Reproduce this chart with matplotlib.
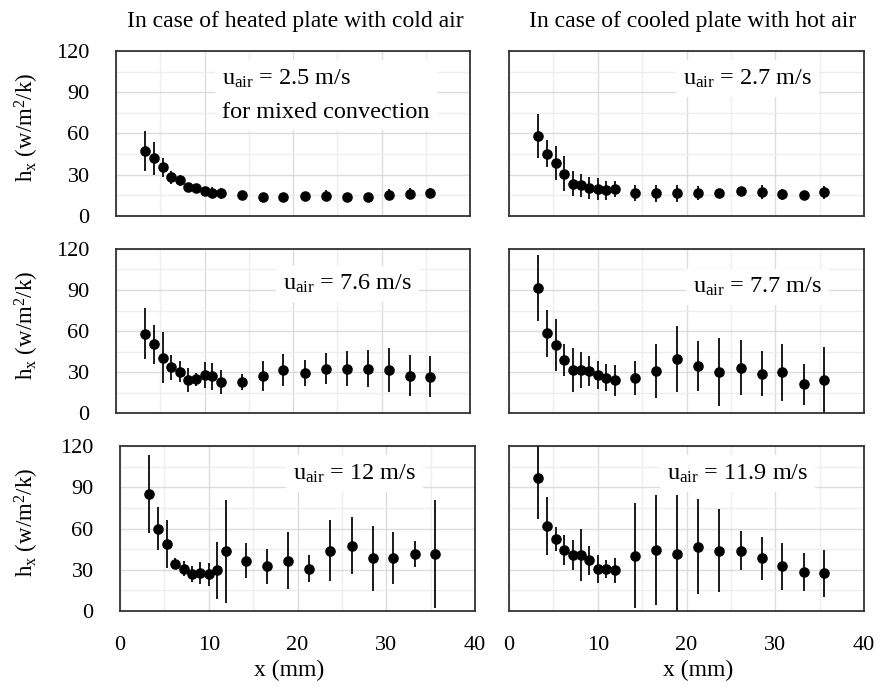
import matplotlib
matplotlib.use('Agg')
import matplotlib.pyplot as plt
from matplotlib.ticker import MultipleLocator

plt.rcParams['font.family'] = ['Liberation Serif', 'DejaVu Serif']
plt.rcParams['mathtext.fontset'] = 'custom'
plt.rcParams['mathtext.rm'] = 'Liberation Serif'
plt.rcParams['mathtext.it'] = 'Liberation Serif:italic'

# distance from leading edge, shared by all six runs
x_mm = [3.3, 4.3, 5.3, 6.2, 7.2, 8.1, 9.0, 10.0, 10.9, 11.9,
        14.2, 16.6, 18.9, 21.3, 23.7, 26.1, 28.5, 30.8, 33.2, 35.5]

# heated plate with cold air
h_hot_25 = [47, 42, 35.5, 28, 26, 21, 20, 18.5, 17, 16.5,
            15, 14, 14, 14.6, 14.6, 14, 14, 15.6, 16.3, 17]
e_hot_25 = [14.6, 12, 7, 5, 4, 2, 3, 2, 4, 4,
            1.5, 1, 1, 2, 4, 1, 3, 4, 4, 3]
h_hot_76 = [57.9, 50.2, 40.6, 33.5, 30.3, 24.1, 24.6, 27.8, 26.8, 22.7,
            22.7, 27.1, 31.5, 29.3, 32.5, 32.5, 32.5, 31.5, 27.1, 26.4]
e_hot_76 = [18.7, 14, 19, 9, 7.5, 8.5, 5, 9.5, 10, 9,
            6, 11, 12, 9.5, 11.5, 13, 13.8, 16, 15, 15]
h_hot_12 = [85, 59.7, 48.8, 34.3, 30.9, 26.6, 27.8, 26.6, 29.5, 43.5,
            36.7, 32.6, 36.7, 30.9, 44, 47.6, 38.2, 38.6, 41.5, 41.5]
e_hot_12 = [28.5, 15.6, 17.5, 4, 5.6, 5.8, 8.2, 8.5, 21, 37.5,
            12.4, 12.6, 21, 10, 22, 21, 23.8, 18.6, 9.7, 39]

# cooled plate with hot air
h_cold_27 = [58, 45.3, 38.6, 30.8, 23.6, 22.4, 20.5, 19.5, 18.8, 19.5,
             16.9, 16.4, 16.4, 16.9, 16.4, 18.3, 17.6, 15.9, 15.2, 17.1]
e_cold_27 = [16, 10, 12.5, 12.5, 9, 8.5, 8, 8, 7, 6,
             6, 6, 6, 5, 3, 3, 5, 4, 3, 5]
h_cold_77 = [91.4, 58.2, 49.7, 38.8, 31.5, 31.5, 31.0, 27.9, 25.9, 23.8,
             25.5, 30.8, 39.3, 34.4, 29.8, 33.2, 28.6, 29.8, 21.1, 24.2]
e_cold_77 = [24, 17.5, 19, 12, 16, 13.5, 11, 10, 10, 11.5,
             12.5, 20, 24, 18, 25, 20, 16.5, 21, 15, 24]
h_cold_119 = [96.6, 61.6, 52.4, 44.2, 40.6, 40.6, 37, 30.7, 30.7, 29.5,
              40.3, 44.7, 41.8, 46.6, 44, 44, 38.2, 32.6, 28.3, 27.3]
e_cold_119 = [30, 21, 9, 11, 11, 19, 10.6, 10, 6.6, 9.4,
              38, 40, 42.5, 34.5, 30.5, 14.5, 15.5, 17, 13.6, 17]

headers = ['In case of heated plate with cold air',
           'In case of cooled plate with hot air']
notes = [r'u$_{\mathrm{air}}$ = 2.5 m/s' + '\nfor mixed convection',
         r'u$_{\mathrm{air}}$ = 2.7 m/s',
         r'u$_{\mathrm{air}}$ = 7.6 m/s',
         r'u$_{\mathrm{air}}$ = 7.7 m/s',
         r'u$_{\mathrm{air}}$ = 12 m/s',
         r'u$_{\mathrm{air}}$ = 11.9 m/s']
series = [(h_hot_25, e_hot_25), (h_cold_27, e_cold_27),
          (h_hot_76, e_hot_76), (h_cold_77, e_cold_77),
          (h_hot_12, e_hot_12), (h_cold_119, e_cold_119)]

W, H = 890, 687
fig = plt.figure(figsize=(W / 100, H / 100), dpi=100)

# panel boxes in pixels: left, right, top, bottom
boxes = [(116, 470, 51, 216), (509, 864, 51, 216),
         (116, 470, 249, 413), (509, 864, 249, 413),
         (120, 475, 446, 611), (509, 864, 446, 611)]
# where the speed note sits (data coords, left edge / vertical centre)
note_pos = [(12.0, 88), (19.6, 100), (18.9, 94.5),
            (20.7, 92), (19.5, 100), (17.8, 100)]

for i, ((l, r, t, b), (h, e)) in enumerate(zip(boxes, series)):
    ax = fig.add_axes([l / W, (H - b) / H, (r - l) / W, (b - t) / H])
    ax.set_xlim(0, 40)
    ax.set_ylim(0, 120)
    ax.xaxis.set_major_locator(MultipleLocator(10))
    ax.xaxis.set_minor_locator(MultipleLocator(5))
    ax.yaxis.set_major_locator(MultipleLocator(30))
    ax.yaxis.set_minor_locator(MultipleLocator(15))
    ax.grid(which='major', color='#dcdcdc', lw=1.0)
    ax.grid(which='minor', color='#eeeeee', lw=1.0)
    ax.set_axisbelow(True)
    ax.tick_params(which='both', length=0, labelsize=16)
    ax.tick_params(axis='y', pad=19)
    ax.tick_params(axis='x', pad=18)
    for spine in ax.spines.values():
        spine.set_color('#333333')
        spine.set_linewidth(1.3)
    if i % 2 == 1:
        ax.set_yticklabels([])
    if i < 4:
        ax.set_xticklabels([])

    nx, ny = note_pos[i]
    ax.text(nx, ny, notes[i], fontsize=17.5, va='center', ha='left',
            linespacing=1.75, zorder=2,
            bbox=dict(facecolor='white', edgecolor='none', pad=5))
    ax.errorbar(x_mm, h, yerr=e, fmt='o', color='black', ecolor='#1a1a1a',
                elinewidth=1.4, markersize=6.6, capsize=0, zorder=3)

# column headers
fig.text(295 / W, 1 - 22 / H, headers[0], fontsize=17, ha='center', va='center')
fig.text(693 / W, 1 - 22 / H, headers[1], fontsize=17, ha='center', va='center')

# y labels
for t, b in [(51, 216), (249, 413), (446, 611)]:
    fig.text(27 / W, 1 - ((t + b) / 2 - 6) / H,
             r'h$_{\mathrm{x}}$ (w/m$^{\mathrm{2}}$/k)', fontsize=16.5,
             rotation=90, ha='center', va='center')

# x labels
fig.text(289 / W, 1 - 670 / H, 'x (mm)', fontsize=17, ha='center', va='center')
fig.text(698 / W, 1 - 670 / H, 'x (mm)', fontsize=17, ha='center', va='center')

fig.savefig('out.png', dpi=100)
